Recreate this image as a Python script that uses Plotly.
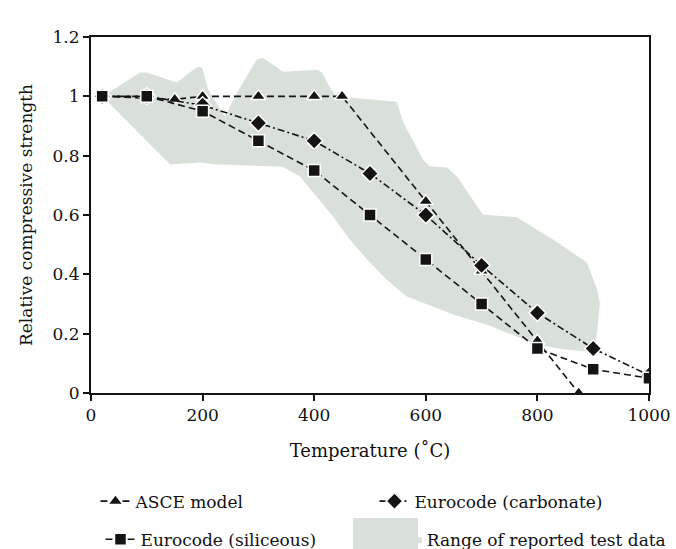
import plotly.graph_objects as go

# ---- data ----
asce_temp = [20, 150, 200, 300, 400, 450, 600, 700, 800, 874]
asce_strength = [1.0, 0.99, 1.0, 1.0, 1.0, 1.0, 0.646, 0.411, 0.176, 0.0]

sil_temp = [20, 100, 200, 300, 400, 500, 600, 700, 800, 900, 1000]
sil_strength = [1.0, 1.0, 0.95, 0.85, 0.75, 0.60, 0.45, 0.30, 0.15, 0.08, 0.05]

carb_temp = [20, 100, 200, 300, 400, 500, 600, 700, 800, 900, 1000]
carb_strength = [1.0, 1.0, 0.97, 0.91, 0.85, 0.74, 0.60, 0.43, 0.27, 0.15, 0.06]

# outline of the range of reported test data (upper edge, then lower edge back)
range_temp = [21, 88, 100, 154, 177, 192, 199, 210, 240, 262, 297, 308, 344, 405,
              414, 428, 441, 464, 548, 559, 595, 607, 638, 656, 702, 763, 828, 889,
              907, 912, 907, 900,
              853, 799, 710, 653, 566, 530, 495, 464, 434, 405, 375, 344, 226, 195,
              142, 21]
range_strength = [1.0, 1.08, 1.08, 1.047, 1.08, 1.10, 1.097, 1.023, 0.93, 1.013,
                  1.124, 1.13, 1.083, 1.09, 1.08, 1.03, 0.996, 0.996, 0.982, 0.915,
                  0.787, 0.764, 0.76, 0.73, 0.602, 0.592, 0.517, 0.44, 0.348, 0.305,
                  0.203, 0.139,
                  0.146, 0.163, 0.23, 0.262, 0.325, 0.382, 0.45, 0.517, 0.594, 0.662,
                  0.729, 0.763, 0.77, 0.777, 0.77, 0.999]

x_ticks = [0, 200, 400, 600, 800, 1000]
y_ticks = [0, 0.2, 0.4, 0.6, 0.8, 1.0, 1.2]

FONT = "DejaVu Serif"
FILL = "#d9e0da"
INK = "#141414"

fig = go.Figure()

fig.add_trace(go.Scatter(
    x=range_temp, y=range_strength, mode="lines", fill="toself",
    fillcolor=FILL, line=dict(width=0, color=FILL),
    name="Range of reported test data", legend="legend4", hoverinfo="skip"))

marker_line = dict(color="white", width=1.5)

fig.add_trace(go.Scatter(
    x=asce_temp, y=asce_strength, mode="lines+markers", name="ASCE model",
    line=dict(color=INK, width=1.6, dash="7px,4px"),
    marker=dict(symbol="triangle-up", size=13, color=INK, line=marker_line),
    legend="legend"))

fig.add_trace(go.Scatter(
    x=carb_temp, y=carb_strength, mode="lines+markers", name="Eurocode (carbonate)",
    line=dict(color=INK, width=1.6, dash="7px,3px,2px,3px"),
    marker=dict(symbol="diamond", size=13, color=INK, line=marker_line),
    legend="legend2"))

fig.add_trace(go.Scatter(
    x=sil_temp, y=sil_strength, mode="lines+markers", name="Eurocode (siliceous)",
    line=dict(color=INK, width=1.6, dash="7px,4px"),
    marker=dict(symbol="square", size=12, color=INK, line=marker_line),
    legend="legend3"))

legend_common = dict(font=dict(family=FONT, size=17, color="#111"),
                     bgcolor="rgba(0,0,0,0)", borderwidth=0,
                     xanchor="left", yanchor="middle", orientation="h")

fig.update_layout(
    width=676, height=549,
    margin=dict(l=91, r=27, t=37, b=156, autoexpand=False),
    paper_bgcolor="white", plot_bgcolor="white",
    font=dict(family=FONT, size=17, color="#111"),
    xaxis=dict(range=[0, 1000], tickvals=x_ticks, ticks="outside", ticklen=6,
               tickwidth=1.5, tickcolor=INK, showline=True, linecolor=INK,
               linewidth=2, mirror=True, showgrid=False, zeroline=False,
               tickfont=dict(family=FONT, size=17),
               title=dict(text="Temperature (˚C)", font=dict(family=FONT, size=18),
                          standoff=20)),
    yaxis=dict(range=[0, 1.2], tickvals=y_ticks, ticks="outside", ticklen=6,
               tickwidth=1.5, tickcolor=INK, showline=True, linecolor=INK,
               linewidth=2, mirror=True, showgrid=False, zeroline=False,
               tickfont=dict(family=FONT, size=17),
               title=dict(text="Relative compressive strength",
                          font=dict(family=FONT, size=17), standoff=16)),
    legend=dict(x=0.008, y=-0.305, **legend_common),
    legend2=dict(x=0.508, y=-0.305, **legend_common),
    legend3=dict(x=0.017, y=-0.412, **legend_common),
    legend4=dict(x=0.53, y=-0.412, **legend_common),
    showlegend=True,
    shapes=[dict(type="rect", xref="paper", yref="paper",
                 x0=(353 - 91) / 558, x1=(418 - 91) / 558,
                 y0=(393 - 549) / 356, y1=(393 - 518) / 356,
                 fillcolor=FILL, line=dict(width=0), layer="below")],
)

fig.write_html("out.html", config={"displayModeBar": False},
               post_script="document.body.style.margin='0';")
